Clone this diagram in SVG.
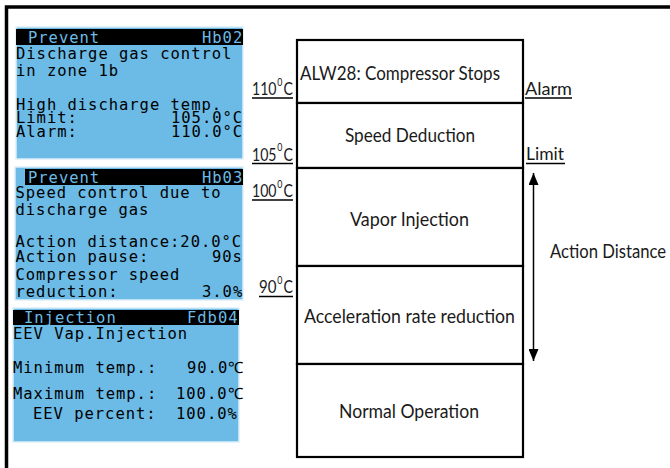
<svg xmlns="http://www.w3.org/2000/svg" width="670" height="468" viewBox="0 0 670 468">
<style>
.lcd{fill:#6BBBE6;stroke:#DCEEF8;stroke-width:1.5}
.bar{fill:#000}
.mono{font-family:"DejaVu Sans Mono","Liberation Mono",monospace;font-size:15.5px;letter-spacing:0.97px;fill:#000}
.hdr{fill:#6BBBE6}
.box{fill:#fff;stroke:#000;stroke-width:2.2}
.lbl{font-family:Lato,"Open Sans","Liberation Sans",sans-serif;font-size:19.5px;fill:#1a1a1a}
.tmp{font-family:Lato,"Open Sans","Liberation Sans",sans-serif;font-size:17px;fill:#1a1a1a}
.sup{font-family:Lato,"Open Sans","Liberation Sans",sans-serif;font-size:11px;fill:#1a1a1a}
.ul{stroke:#000;stroke-width:1.6}
</style>
<defs>
<marker id="ah" viewBox="0 0 12 10" refX="12" refY="5" markerWidth="12" markerHeight="10" markerUnits="userSpaceOnUse" orient="auto-start-reverse">
<path d="M0,0 L12,5 L0,10 z" fill="#000"/>
</marker>
</defs>
<rect width="670" height="468" fill="#fff"/>
<!-- frame -->
<path d="M6.5,468 V7 H670" fill="none" stroke="#000" stroke-width="3.5"/>

<g id="panel-hb02">
<rect class="lcd" x="16" y="27" width="227" height="132"/>
<rect class="bar" x="16" y="29" width="227" height="16"/>
<text class="mono hdr" x="28" y="43">Prevent</text>
<text class="mono hdr" x="202" y="43">Hb02</text>
<text class="mono" x="16" y="59">Discharge gas control</text>
<text class="mono" x="16" y="76">in zone 1b</text>
<text class="mono" x="16" y="110">High discharge temp.</text>
<text class="mono" x="16" y="123">Limit:</text>
<text class="mono" x="171" y="123">105.0°C</text>
<text class="mono" x="16" y="137">Alarm:</text>
<text class="mono" x="171" y="137">110.0°C</text>
</g>

<g id="panel-hb03">
<rect class="lcd" x="15" y="167" width="228" height="133"/>
<rect class="bar" x="25" y="169" width="218" height="16"/>
<text class="mono hdr" x="28" y="183">Prevent</text>
<text class="mono hdr" x="202" y="183">Hb03</text>
<text class="mono" x="15.5" y="198">Speed control due to</text>
<text class="mono" x="15.5" y="215">discharge gas</text>
<text class="mono" x="15.5" y="247">Action distance:20.0°C</text>
<text class="mono" x="15.5" y="262">Action pause:</text>
<text class="mono" x="212" y="262">90s</text>
<text class="mono" x="15.5" y="280">Compressor speed</text>
<text class="mono" x="15.5" y="297">reduction:</text>
<text class="mono" x="202" y="297">3.0%</text>
</g>

<g id="panel-fdb04">
<rect class="lcd" x="13" y="308" width="226" height="134"/>
<rect class="bar" x="13" y="310" width="226" height="15"/>
<text class="mono hdr" x="24" y="323">Injection</text>
<text class="mono hdr" x="187" y="323">Fdb04</text>
<text class="mono" x="13" y="339">EEV Vap.Injection</text>
<text class="mono" x="13" y="373">Minimum temp.:</text>
<text class="mono" x="187" y="373">90.0℃</text>
<text class="mono" x="13" y="399">Maximum temp.:</text>
<text class="mono" x="176" y="399">100.0℃</text>
<text class="mono" x="33" y="419">EEV percent:</text>
<text class="mono" x="176" y="419">100.0%</text>
</g>

<g id="zone-alarm">
<rect class="box" x="297" y="40" width="226" height="63"/>
<text class="lbl" x="300" y="80" textLength="200" lengthAdjust="spacingAndGlyphs">ALW28: Compressor Stops</text>
</g>
<g id="zone-speed">
<rect class="box" x="297" y="103" width="226" height="65"/>
<text class="lbl" x="345" y="142" textLength="130" lengthAdjust="spacingAndGlyphs">Speed Deduction</text>
</g>
<g id="zone-vapor">
<rect class="box" x="297" y="168" width="226" height="98"/>
<text class="lbl" x="350" y="226" textLength="119" lengthAdjust="spacingAndGlyphs">Vapor Injection</text>
</g>
<g id="zone-accel">
<rect class="box" x="297" y="266" width="226" height="98"/>
<text class="lbl" x="304" y="323" textLength="211" lengthAdjust="spacingAndGlyphs">Acceleration rate reduction</text>
</g>
<g id="zone-normal">
<rect class="box" x="297" y="364" width="226" height="93"/>
<text class="lbl" x="339" y="418" textLength="140" lengthAdjust="spacingAndGlyphs">Normal Operation</text>
</g>

<g id="temp-110">
<g transform="translate(252,95) scale(0.8,1)">
<text class="tmp" x="0" y="0" textLength="30.6" lengthAdjust="spacingAndGlyphs">110</text>
<text class="sup" x="31.5" y="-9.5">0</text>
<text class="tmp" x="39.4" y="0" textLength="11.8" lengthAdjust="spacingAndGlyphs">C</text>
</g>
<line class="ul" x1="252" y1="98" x2="293" y2="98"/>
</g>
<g id="temp-105">
<g transform="translate(252,160.5) scale(0.8,1)">
<text class="tmp" x="0" y="0" textLength="30.6" lengthAdjust="spacingAndGlyphs">105</text>
<text class="sup" x="31.5" y="-9.5">0</text>
<text class="tmp" x="39.4" y="0" textLength="11.8" lengthAdjust="spacingAndGlyphs">C</text>
</g>
<line class="ul" x1="252" y1="163.5" x2="293" y2="163.5"/>
</g>
<g id="temp-100">
<g transform="translate(252,197) scale(0.8,1)">
<text class="tmp" x="0" y="0" textLength="30.6" lengthAdjust="spacingAndGlyphs">100</text>
<text class="sup" x="31.5" y="-9.5">0</text>
<text class="tmp" x="39.4" y="0" textLength="11.8" lengthAdjust="spacingAndGlyphs">C</text>
</g>
<line class="ul" x1="252" y1="200" x2="293" y2="200"/>
</g>
<g id="temp-90">
<g transform="translate(252,293) scale(0.8,1)">
<text class="tmp" x="8.8" y="0" textLength="21.8" lengthAdjust="spacingAndGlyphs">90</text>
<text class="sup" x="31.5" y="-9.5">0</text>
<text class="tmp" x="39.4" y="0" textLength="11.8" lengthAdjust="spacingAndGlyphs">C</text>
</g>
<line class="ul" x1="259" y1="296.5" x2="293" y2="296.5"/>
</g>

<g id="label-alarm">
<text class="tmp" x="525" y="95" textLength="47" lengthAdjust="spacingAndGlyphs">Alarm</text>
<line class="ul" x1="525" y1="98" x2="572" y2="98"/>
</g>
<g id="label-limit">
<text class="tmp" x="526" y="160" textLength="38" lengthAdjust="spacingAndGlyphs">Limit</text>
<line class="ul" x1="526" y1="163.5" x2="565" y2="163.5"/>
</g>
<g id="label-action">
<text class="lbl" transform="translate(550,258) scale(0.82,1)" x="0" y="0" textLength="141.5" lengthAdjust="spacingAndGlyphs">Action Distance</text>
</g>

<g id="connectors">
<line x1="533.5" y1="361" x2="533.5" y2="173" stroke="#000" stroke-width="1.5" marker-start="url(#ah)" marker-end="url(#ah)"/>
</g>
</svg>
